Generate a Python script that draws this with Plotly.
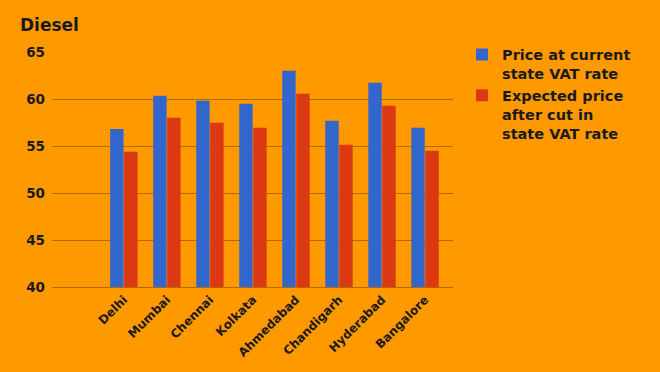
import plotly.graph_objects as go

cities = ["Delhi", "Mumbai", "Chennai", "Kolkata", "Ahmedabad", "Chandigarh", "Hyderabad", "Bangalore"]
current_price = [56.81, 60.35, 59.82, 59.50, 63.01, 57.69, 61.73, 56.95]
expected_price = [54.40, 58.01, 57.48, 56.95, 60.56, 55.14, 59.29, 54.50]
series_names = ["Price at current<br>state VAT rate", "Expected price<br>after cut in<br>state VAT rate"]
y_ticks = [40, 45, 50, 55, 60, 65]

BG = "#FF9900"
TXT = "#1A1A1A"
FONT = "DejaVu Sans, Arial, sans-serif"

fig = go.Figure()
fig.add_trace(go.Bar(x=cities, y=current_price, name=series_names[0],
                     marker=dict(color="#3366CC", line=dict(width=0))))
fig.add_trace(go.Bar(x=cities, y=expected_price, name=series_names[1],
                     marker=dict(color="#DC3912", line=dict(width=0))))

fig.update_layout(
    width=660, height=372,
    paper_bgcolor=BG, plot_bgcolor=BG,
    margin=dict(l=52, r=207, t=52, b=85),
    barmode="group", bargap=0.35, bargroupgap=0.04,
    font=dict(family=FONT, color=TXT, size=12, weight="bold"),
    title=dict(text="Diesel", x=20/660, xanchor="left", y=1-25/372, yanchor="middle",
               font=dict(size=17, family=FONT, color=TXT, weight="bold")),
    legend=dict(x=1.0225, y=1.057, xanchor="left", yanchor="top", valign="top",
                font=dict(size=14.5, family=FONT, color=TXT, weight="bold"),
                bgcolor="rgba(0,0,0,0)", tracegroupgap=0, itemwidth=30),
    showlegend=True,
)
fig.update_xaxes(range=[-1.67, 7.65], tickangle=-45, showgrid=False,
                 showline=True, linecolor="#B06A00", linewidth=1,
                 tickfont=dict(size=12, family=FONT, color=TXT, weight="bold"), ticks="")
fig.update_yaxes(range=[40, 65], tickvals=y_ticks, showgrid=True, gridcolor="#B06A00",
                 gridwidth=1, zeroline=False, ticks="", ticklabelstandoff=6,
                 tickfont=dict(size=13.5, family=FONT, color=TXT, weight="bold"))

fig.write_html("out.html", config={"displayModeBar": False},
               post_script="document.body.style.margin='0px';document.body.style.background='#FF9900';")
